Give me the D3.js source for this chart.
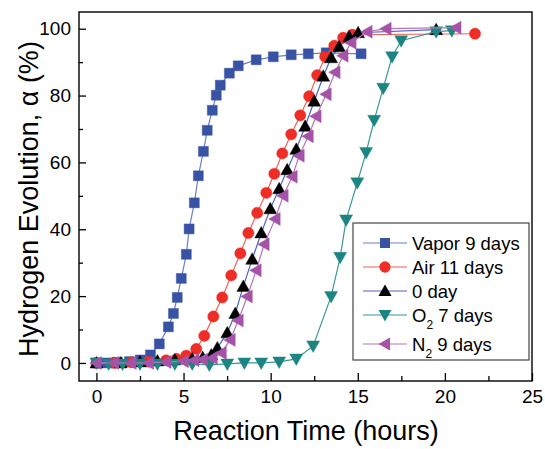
<!DOCTYPE html>
<html><head><meta charset="utf-8">
<script src="https://cdn.jsdelivr.net/npm/d3@7"></script>
<style>
body{margin:0;background:#fff;}
text{font-family:"Liberation Sans",Arial,sans-serif;}
</style></head>
<body><svg id="c" width="545" height="449"></svg>
<script>
// ---- data ----
const vaporT = [0,0.6,1.2,1.9,2.52,3.1,3.61,4.13,4.42,4.64,4.87,5.16,5.32,5.62,5.85,6.14,6.36,6.65,6.88,7.11,7.63,8.14,9.17,10.15,11.18,12.16,13.19,15.19];
const vaporV = [0,0,0.2,0.4,0.9,2.4,5.7,10.8,14.8,19.6,25.3,32.5,40.1,47.9,56,63.3,69.6,75.6,80.1,83.1,86.7,88.9,90.7,91.6,92.2,92.5,92.8,92.5];
const airT = [0,1,2,3,4,4.6,5.16,5.73,6.19,6.71,7.22,7.74,8.26,8.72,9.23,9.75,10.21,10.67,11.18,11.70,12.21,12.67,13.13,13.65,14.16,14.68,21.73];
const airV = [0,0,0.2,0.4,0.8,1.2,2.2,4.2,8.1,13.9,19.6,26.2,32.8,38.9,44.9,50.9,56.6,62.7,68.4,74.1,79.8,86.1,91.6,94.9,97.3,98.2,98.5];
const dayT = [0,1.4,2.5,3.5,4.5,5.5,6.1,6.59,6.94,7.51,7.97,8.43,8.94,9.46,9.98,10.49,10.95,11.47,11.98,12.50,13.02,13.47,13.93,14.51,15.02,19.5];
const dayV = [0,0,0.3,0.6,0.9,1.2,1.6,2.4,4.5,9.0,14.8,22.9,31.0,38.9,46.1,52.1,57.8,63.9,70.8,78.3,85.8,91.3,94.6,97.6,98.8,99.7];
const o2T = [0,0.7,1.5,2.5,3.5,4.5,5.5,6.48,7.51,8.49,9.46,10.49,11.47,12.44,13.47,13.99,14.33,14.97,15.48,15.94,16.46,16.97,17.49,19.5,20.4];
const o2V = [0,-0.3,-0.3,-0.3,-0.3,-0.3,-0.3,-0.6,-0.3,0,0,0.3,1.2,5.1,19.9,31.6,42.8,53.9,63.0,72.6,82.2,91.6,96.4,99.1,99.4];
const n2T = [0,1,2,3,4,5,5.6,6.1,6.65,7.17,7.68,8.14,8.66,9.17,9.63,10.26,10.72,11.24,11.64,12.16,12.61,13.19,13.70,14.16,14.62,15.54,16.63,20.64];
const n2V = [0,0,0,0,0.3,0.5,0.8,1.0,1.5,3.0,6.9,12.7,19.9,27.7,35.5,43.1,50.0,55.7,62.0,67.8,73.8,80.4,87.0,91.9,95.8,99.1,100,100.3];
const xTicks = [0,5,10,15,20,25];
const yTicks = [0,20,40,60,80,100];
const seriesNames = ["Vapor 9 days","Air 11 days","0 day","O|2| 7 days","N|2| 9 days"];

const series = [
  {name:seriesNames[0], t:vaporT, v:vaporV, sym:"square", fill:"#3852a4", line:"#6a80c6"},
  {name:seriesNames[1], t:airT, v:airV, sym:"circle", fill:"#ee2e26", line:"#f0605a"},
  {name:seriesNames[2], t:dayT, v:dayV, sym:"up", fill:"#000000", line:"#4e62c2"},
  {name:seriesNames[3], t:o2T, v:o2V, sym:"down", fill:"#1b8582", line:"#3c9894"},
  {name:seriesNames[4], t:n2T, v:n2V, sym:"left", fill:"#a553a8", line:"#b575b8"}
];

const svg = d3.select("#c");
const L=79, R=532, T=12, B=381;
const x = d3.scaleLinear().domain([-1,25]).range([L,R]);
const y = d3.scaleLinear().domain([-5.4,105]).range([B,T]);

function symPath(s){
  switch(s){
    case "square": return "M-5,-5H5V5H-5Z";
    case "circle": return d3.symbol(d3.symbolCircle, 100)();
    case "up": return "M0,-6.5L6.5,5L-6.5,5Z";
    case "down": return "M0,6.5L6.5,-5L-6.5,-5Z";
    case "left": return "M-6.5,0L5,-6.5L5,6.5Z";
  }
}

// frame
svg.append("rect").attr("x",L).attr("y",T).attr("width",R-L).attr("height",B-T)
  .attr("fill","none").attr("stroke","#000").attr("stroke-width",1.4);

// axes
const fs = 19;
const xAx = svg.append("g").attr("transform",`translate(0,${B})`)
  .call(d3.axisBottom(x).tickValues(xTicks).tickSize(-8).tickPadding(9).tickSizeOuter(0));
svg.append("g").attr("transform",`translate(0,${B})`)
  .call(d3.axisBottom(x).tickValues(d3.range(0,25,2.5).filter(d=>d%5!==0)).tickSize(-5).tickFormat("").tickSizeOuter(0));
const yAx = svg.append("g").attr("transform",`translate(${L},0)`)
  .call(d3.axisLeft(y).tickValues(yTicks).tickSize(-7).tickPadding(8).tickSizeOuter(0));
svg.append("g").attr("transform",`translate(${L},0)`)
  .call(d3.axisLeft(y).tickValues(d3.range(10,101,20)).tickSize(-4).tickFormat("").tickSizeOuter(0));
svg.selectAll(".domain").remove();
svg.selectAll(".tick line").attr("stroke","#000").attr("stroke-width",1.3);
svg.selectAll(".tick text").attr("font-size",fs).attr("fill","#000")
  .attr("font-family","'Liberation Sans',Arial,sans-serif");

// titles
svg.append("text").attr("x",306).attr("y",440).attr("text-anchor","middle")
  .attr("font-size",27).text("Reaction Time (hours)");
svg.append("text").attr("transform","translate(38,199) rotate(-90)").attr("text-anchor","middle")
  .attr("font-size",27).text("Hydrogen Evolution, α (%)");

// data
const plot = svg.append("g");
series.forEach(s=>{
  const pts = s.t.map((t,i)=>[t,s.v[i]]);
  plot.append("path").datum(pts)
    .attr("d",d3.line().x(d=>x(d[0])).y(d=>y(d[1])))
    .attr("fill","none").attr("stroke",s.line).attr("stroke-width",1.2);
  plot.selectAll(null).data(pts).enter().append("path")
    .attr("d",symPath(s.sym))
    .attr("transform",d=>`translate(${x(d[0])},${y(d[1])})`)
    .attr("fill",s.fill).attr("stroke",s.fill).attr("stroke-opacity",0.5).attr("stroke-width",0.8);
});

// legend
const lg = svg.append("g");
lg.append("rect").attr("x",353).attr("y",223).attr("width",176).attr("height",137)
  .attr("fill","#fff").attr("stroke","#444").attr("stroke-width",1.2);
const rowY = [243,267,291,315,344];
series.forEach((s,i)=>{
  const yy = rowY[i];
  lg.append("line").attr("x1",363).attr("x2",407).attr("y1",yy).attr("y2",yy)
    .attr("stroke",s.line).attr("stroke-width",1.2);
  lg.append("path").attr("d",symPath(s.sym)).attr("transform",`translate(385,${yy})`)
    .attr("fill",s.fill);
  const parts = s.name.split("|");
  const tx = lg.append("text").attr("x",412).attr("y",yy+6.5).attr("font-size",18.5);
  parts.forEach((p,j)=>{
    if(j%2===1){
      tx.append("tspan").attr("font-size",12).attr("dy",7).text(p);
    } else {
      const ts = tx.append("tspan").text(p);
      if(j>0) ts.attr("dy",-7);
    }
  });
});
</script>
</body></html>
